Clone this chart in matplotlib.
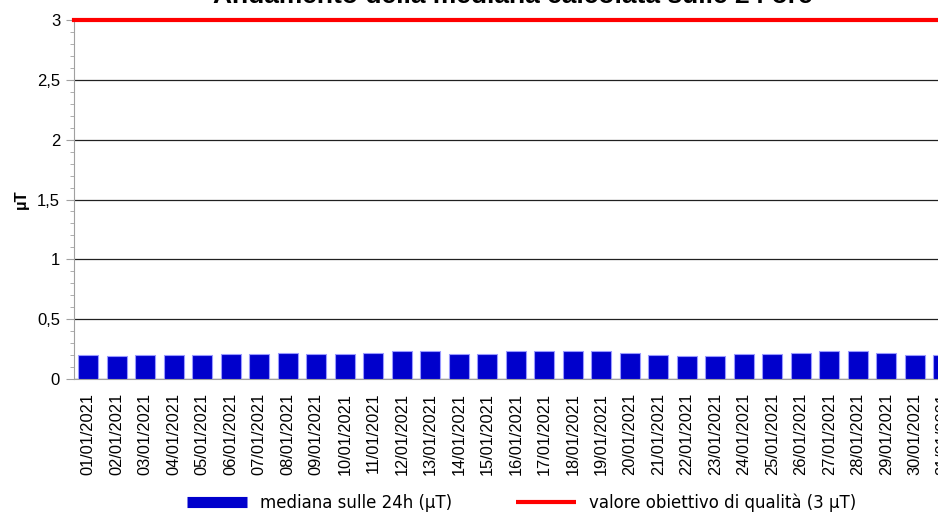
import numpy as np
import matplotlib
matplotlib.use('Agg')
import matplotlib.pyplot as plt
from matplotlib.lines import Line2D
from matplotlib.ticker import MultipleLocator, FuncFormatter

plt.rcParams['font.family'] = ['Liberation Sans', 'DejaVu Sans']

# daily labels and 24h median values (uT)
giorni = ['%02d/01/2021' % d for d in range(1, 32)]
mediana = [0.20, 0.19, 0.20, 0.20, 0.20, 0.21, 0.21, 0.22, 0.21, 0.21,
           0.22, 0.23, 0.23, 0.21, 0.21, 0.23, 0.23, 0.23, 0.23, 0.22,
           0.20, 0.19, 0.19, 0.21, 0.21, 0.22, 0.23, 0.23, 0.22, 0.20,
           0.20]
obiettivo = 3.0

fig = plt.figure(figsize=(9.38, 5.14), dpi=100)
# axes runs past the right edge, like the cropped original
ax = fig.add_axes([74/938, 135/514, 883.5/938, 359/514])

x = np.arange(len(giorni))
ax.bar(x, mediana, width=0.7, color='#0000cc', edgecolor='#9a9aff',
       linewidth=0.8, zorder=3)
ax.axhline(obiettivo, color='#ff0000', lw=3, zorder=4, clip_on=False)

ax.set_xlim(-0.5, len(giorni) - 0.5)
ax.set_ylim(0, 3)
ax.set_xticks(x)
ax.set_xticklabels(giorni, rotation=90, fontsize=11.8)
ax.tick_params(axis='x', length=0, pad=10)

ax.yaxis.set_major_locator(MultipleLocator(0.5))
ax.yaxis.set_minor_locator(MultipleLocator(0.1))
ax.yaxis.set_major_formatter(FuncFormatter(lambda v, p: ('%g' % v).replace('.', ',')))
ax.tick_params(axis='y', which='major', length=6, color='#a0a0a0', labelsize=12, pad=4)
ax.tick_params(axis='y', which='minor', length=3, color='#a0a0a0')
ax.grid(axis='y', which='major', color='#202020', lw=0.9, zorder=1)

for s in ['top', 'right']:
    ax.spines[s].set_visible(False)
ax.spines['left'].set_color('#a0a0a0')
ax.spines['bottom'].set_color('#a0a0a0')

ax.set_ylabel('µT', fontsize=12, fontweight='bold', labelpad=6)

fig.text(0.547, 0.994, 'Andamento della mediana calcolata sulle 24 ore',
         ha='center', va='baseline', fontsize=19, fontweight='bold')

handles = [Line2D([0], [0], color='#0000cc', lw=8, solid_capstyle='butt'),
           Line2D([0], [0], color='#ff0000', lw=3, solid_capstyle='butt')]
fig.legend(handles, ['mediana sulle 24h (µT)', 'valore obiettivo di qualità (3 µT)'],
           loc='center', bbox_to_anchor=(0.556, 0.022), ncol=2, frameon=False,
           prop={'family': 'DejaVu Sans', 'size': 12},
           handlelength=3.6, columnspacing=3.8, handletextpad=0.8)

fig.savefig('out.png', dpi=100)
